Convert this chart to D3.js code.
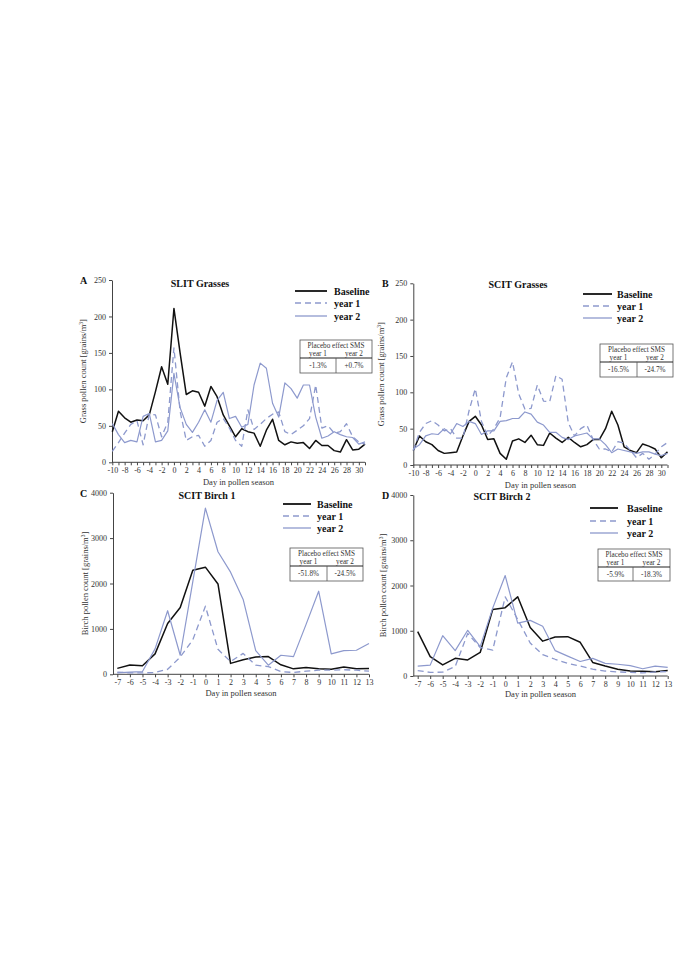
<!DOCTYPE html>
<html>
<head>
<meta charset="utf-8">
<script src="https://cdn.jsdelivr.net/npm/d3@7"></script>
<style>
html,body{margin:0;padding:0;background:#fff;}
svg{display:block;font-family:"Liberation Serif","Times New Roman",serif;}
</style>
</head>
<body>
<svg id="chart" width="685" height="969"></svg>
<script>
// ---------------- DATA ----------------
const grassDays = [-10,-9,-8,-7,-6,-5,-4,-3,-2,-1,0,1,2,3,4,5,6,7,8,9,10,11,12,13,14,15,16,17,18,19,20,21,22,23,24,25,26,27,28,29,30,31];
const grassTickLabels = [-10,-8,-6,-4,-2,0,2,4,6,8,10,12,14,16,18,20,22,24,26,28,30];
const grassYTicks = [0,50,100,150,200,250];

const slitBaseline = [42,70,61,55,58,57,65,97,131,107,211,150,93,98,96,77,104,90,65,50,35,46,42,40,22,44,59,30,24,28,26,27,19,30,23,23,16,14,31,17,18,25];
const slitYear1    = [15,27,40,52,57,24,66,65,35,55,157,70,30,35,37,22,30,55,60,47,30,22,72,45,52,60,66,69,42,38,44,50,60,106,47,50,40,42,53,35,28,25];
const slitYear2    = [53,38,27,30,28,63,67,28,30,43,122,75,52,41,55,72,55,85,96,60,63,48,52,106,136,129,81,62,109,101,88,106,106,62,33,36,42,38,35,34,25,28];

const scitGrassBaseline = [20,40,32,28,20,16,17,18,40,60,67,55,35,36,16,8,33,36,31,41,28,27,44,37,31,38,31,25,28,35,35,50,74,55,25,20,17,29,26,22,10,18];
const scitGrassYear1    = [20,45,57,61,55,47,50,37,37,75,105,60,40,50,65,120,142,98,77,78,110,88,87,123,118,58,40,50,55,35,22,22,18,32,30,20,10,16,8,15,25,31];
const scitGrassYear2    = [22,28,40,43,42,50,43,57,53,60,57,42,47,47,60,61,64,64,73,70,59,55,45,45,38,35,40,42,44,36,36,28,17,22,20,18,16,18,18,15,13,16];

const birchDays = [-7,-6,-5,-4,-3,-2,-1,0,1,2,3,4,5,6,7,8,9,10,11,12,13];
const birchTickLabels = [-7,-6,-5,-4,-3,-2,-1,0,1,2,3,4,5,6,7,8,9,10,11,12,13];
const birchYTicks = [0,1000,2000,3000,4000];

const birch1Baseline = [130,205,190,450,1120,1470,2290,2360,1990,240,320,380,390,210,120,150,120,110,160,120,130];
const birch1Year1    = [50,30,30,40,110,380,760,1500,550,280,460,200,170,60,40,70,90,90,100,90,70];
const birch1Year2    = [30,50,60,560,1400,420,2040,3660,2700,2250,1650,520,200,420,390,1100,1830,450,520,530,680];

const birch2Baseline = [980,430,245,390,355,520,1470,1510,1750,1070,770,860,870,745,300,220,150,110,105,95,120];
const birch2Year1    = [120,80,85,210,940,630,570,1750,1250,730,470,370,280,220,150,110,90,80,70,90,100];
const birch2Year2    = [220,240,890,560,1010,650,1500,2220,1170,1230,1100,560,440,320,390,280,260,230,160,220,190];

const seriesNames = ["Baseline","year 1","year 2"];
const tableHeader = "Placebo effect SMS";
const tableYears = ["year 1","year 2"];
const effectA = ["-1.3%","+0.7%"];
const effectB = ["-16.5%","-24.7%"];
const effectC = ["-51.8%","-24.5%"];
const effectD = ["-5.9%","-18.3%"];

// ---------------- STYLES ----------------
const styles = [
  {stroke:"#111", width:1.5, dash:null},
  {stroke:"#8d99cd", width:1.3, dash:"6,4"},
  {stroke:"#8d99cd", width:1.2, dash:null}
];

// ---------------- LAYOUT ----------------
const panels = [
  {letter:"A", title:"SLIT Grasses", days:grassDays, labels:grassTickLabels, yTicks:grassYTicks,
   series:[slitBaseline,slitYear1,slitYear2], effects:effectA, yLabel:"Grass pollen count [grains/m",
   axisX:112, x0:112.3, x1:365, y0:462.3, y1:280, ymax:250,
   letterPos:[80,284], titlePos:[200,287],
   legend:{lx0:295, lx1:327, tx:334, rows:[291,303,316]},
   table:{l:300, r:372, t:340, m:358, b:373, d:336},
   yLabelX:86, xLabelY:485},
  {letter:"B", title:"SCIT Grasses", days:grassDays, labels:grassTickLabels, yTicks:grassYTicks,
   series:[scitGrassBaseline,scitGrassYear1,scitGrassYear2], effects:effectB, yLabel:"Grass pollen count [grains/m",
   axisX:413.3, x0:413.3, x1:667.5, y0:465, y1:283.3, ymax:250,
   letterPos:[382,287], titlePos:[518,288],
   legend:{lx0:583, lx1:612, tx:617, rows:[294,306,318]},
   table:{l:600, r:673, t:344, m:362, b:377, d:637},
   yLabelX:384, xLabelY:488},
  {letter:"C", title:"SCIT Birch 1", days:birchDays, labels:birchTickLabels, yTicks:birchYTicks,
   series:[birch1Baseline,birch1Year1,birch1Year2], effects:effectC, yLabel:"Birch pollen count [grains/m",
   axisX:113, x0:117.3, x1:369, y0:674.3, y1:492.7, ymax:4000,
   letterPos:[80,497], titlePos:[207,499],
   legend:{lx0:283, lx1:311, tx:317, rows:[504,516,528]},
   table:{l:290, r:363, t:548, m:566, b:581, d:327},
   yLabelX:88, xLabelY:696},
  {letter:"D", title:"SCIT Birch 2", days:birchDays, labels:birchTickLabels, yTicks:birchYTicks,
   series:[birch2Baseline,birch2Year1,birch2Year2], effects:effectD, yLabel:"Birch pollen count [grains/m",
   axisX:413.3, x0:417.7, x1:667.7, y0:676, y1:495, ymax:4000,
   letterPos:[382,499], titlePos:[502,500],
   legend:{lx0:590, lx1:618, tx:627, rows:[508,521,533]},
   table:{l:598, r:670, t:549, m:567, b:581, d:633},
   yLabelX:386, xLabelY:697}
];

const svg = d3.select("#chart");
const axisColor = "#444";

panels.forEach(p => {
  const g = svg.append("g");
  const x = d3.scaleLinear().domain([p.days[0], p.days[p.days.length-1]]).range([p.x0, p.x1]);
  const y = d3.scaleLinear().domain([0, p.ymax]).range([p.y0, p.y1]);

  // X axis
  const xAxis = d3.axisBottom(x).tickValues(p.days).tickSize(3).tickPadding(2).tickSizeOuter(0)
     .tickFormat(d => p.labels.includes(d) ? String(d) : "");
  const gx = g.append("g").attr("transform", `translate(0,${p.y0})`).call(xAxis);
  gx.select(".domain").remove();
  gx.selectAll(".tick line").attr("stroke", axisColor);
  gx.selectAll(".tick text").attr("font-size", 8).attr("fill", "#333")
     .attr("font-family", '"Liberation Serif",serif');
  g.append("line").attr("x1", p.axisX).attr("x2", p.x1).attr("y1", p.y0).attr("y2", p.y0)
     .attr("stroke", axisColor).attr("stroke-width", 1);

  // Y axis
  const yAxis = d3.axisLeft(y).tickValues(p.yTicks).tickSize(3).tickSizeOuter(0).tickFormat(d => String(d));
  const gy = g.append("g").attr("transform", `translate(${p.axisX},0)`).call(yAxis);
  gy.select(".domain").attr("stroke", axisColor);
  gy.selectAll(".tick line").attr("stroke", axisColor);
  gy.selectAll(".tick text").attr("font-size", 8).attr("fill", "#333").attr("x", -6)
     .attr("font-family", '"Liberation Serif",serif');

  // Lines
  const line = d3.line().x((d,i) => x(p.days[i])).y(d => y(d));
  p.series.forEach((s, k) => {
    g.append("path").datum(s).attr("d", line).attr("fill", "none")
      .attr("stroke", styles[k].stroke).attr("stroke-width", styles[k].width)
      .attr("stroke-linejoin", "round")
      .attr("stroke-dasharray", styles[k].dash);
  });

  // Panel letter & title
  g.append("text").attr("x", p.letterPos[0]).attr("y", p.letterPos[1]).text(p.letter)
    .attr("font-size", 10).attr("font-weight", "bold").attr("fill", "#111");
  g.append("text").attr("x", p.titlePos[0]).attr("y", p.titlePos[1]).text(p.title)
    .attr("font-size", 10).attr("font-weight", "bold").attr("text-anchor", "middle").attr("fill", "#111");

  // Axis titles
  g.append("text").attr("x", (p.axisX + p.x1)/2).attr("y", p.xLabelY).text("Day in pollen season")
    .attr("font-size", 8.5).attr("text-anchor", "middle").attr("fill", "#333");
  const yl = g.append("text").attr("transform", `translate(${p.yLabelX},${(p.y0+p.y1)/2}) rotate(-90)`)
    .attr("font-size", 8.5).attr("text-anchor", "middle").attr("fill", "#333");
  yl.append("tspan").text(p.yLabel);
  yl.append("tspan").text("3").attr("font-size", 5.5).attr("dy", -3.5);
  yl.append("tspan").text("]").attr("dy", 3.5);

  // Legend
  seriesNames.forEach((name, k) => {
    const ry = p.legend.rows[k];
    g.append("line").attr("x1", p.legend.lx0).attr("x2", p.legend.lx1).attr("y1", ry).attr("y2", ry)
      .attr("stroke", styles[k].stroke).attr("stroke-width", k === 0 ? 1.8 : 1.3)
      .attr("stroke-dasharray", styles[k].dash);
    g.append("text").attr("x", p.legend.tx).attr("y", ry + 3.5).text(name)
      .attr("font-size", 10).attr("font-weight", "bold").attr("fill", "#111");
  });

  // Table
  const t = p.table;
  const tc = "#555";
  g.append("rect").attr("x", t.l).attr("y", t.t).attr("width", t.r - t.l).attr("height", t.b - t.t)
    .attr("fill", "#fff").attr("stroke", tc).attr("stroke-width", 0.8);
  g.append("line").attr("x1", t.l).attr("x2", t.r).attr("y1", t.m).attr("y2", t.m)
    .attr("stroke", "#222").attr("stroke-width", 1);
  g.append("line").attr("x1", t.d).attr("x2", t.d).attr("y1", t.m).attr("y2", t.b)
    .attr("stroke", tc).attr("stroke-width", 0.8);
  const midL = (t.l + t.d)/2, midR = (t.d + t.r)/2;
  g.append("text").attr("x", (t.l + t.r)/2).attr("y", t.t + 7.5).text(tableHeader)
    .attr("font-size", 7.2).attr("text-anchor", "middle").attr("fill", "#333");
  g.append("text").attr("x", midL).attr("y", t.t + 15.5).text(tableYears[0])
    .attr("font-size", 7.2).attr("text-anchor", "middle").attr("fill", "#333");
  g.append("text").attr("x", midR).attr("y", t.t + 15.5).text(tableYears[1])
    .attr("font-size", 7.2).attr("text-anchor", "middle").attr("fill", "#333");
  g.append("text").attr("x", midL).attr("y", (t.m + t.b)/2 + 2.5).text(p.effects[0])
    .attr("font-size", 7.2).attr("text-anchor", "middle").attr("fill", "#333");
  g.append("text").attr("x", midR).attr("y", (t.m + t.b)/2 + 2.5).text(p.effects[1])
    .attr("font-size", 7.2).attr("text-anchor", "middle").attr("fill", "#333");
});
</script>
</body>
</html>
